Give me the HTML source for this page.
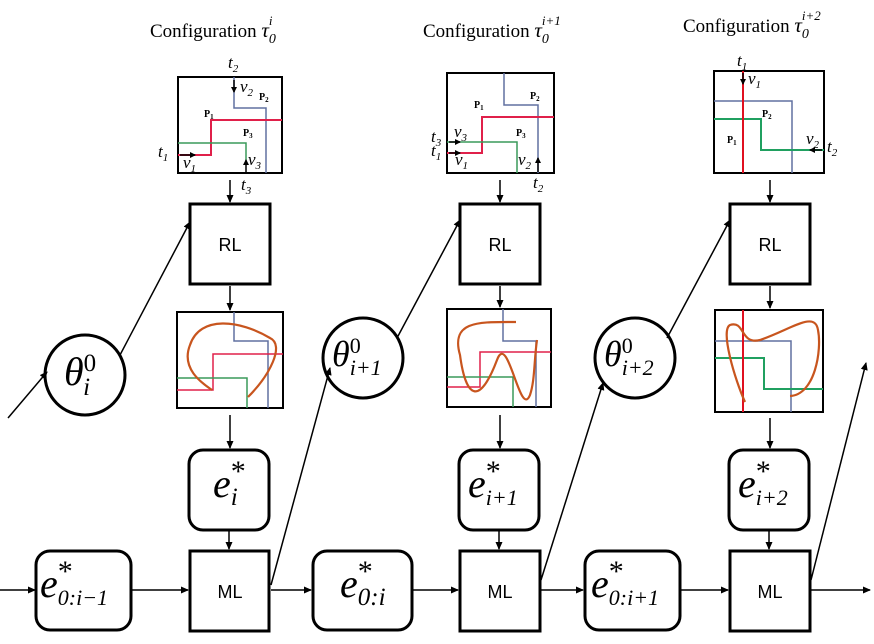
<!DOCTYPE html>
<html><head><style>
body{margin:0;background:#fff}
svg{display:block}
</style></head><body>
<svg width="874" height="644" viewBox="0 0 874 644" xmlns="http://www.w3.org/2000/svg">
<defs><marker id="a" markerWidth="8" markerHeight="8" refX="7" refY="4" orient="auto" markerUnits="userSpaceOnUse"><path d="M0,0.5 L8,4 L0,7.5z" fill="#000"/></marker>
<marker id="b" markerWidth="6" markerHeight="6" refX="5" refY="3" orient="auto" markerUnits="userSpaceOnUse"><path d="M0,0 L6,3 L0,6z" fill="#000"/></marker></defs>
<g font-family="Liberation Serif,serif" font-size="19">
<text x="150" y="37">Configuration <tspan font-style="italic" font-size="21">τ</tspan><tspan font-style="italic" font-size="14" dy="6">0</tspan><tspan font-style="italic" font-size="13" dx="-7" dy="-18">i</tspan></text>
<text x="423" y="37">Configuration <tspan font-style="italic" font-size="21">τ</tspan><tspan font-style="italic" font-size="14" dy="6">0</tspan><tspan font-style="italic" font-size="13" dx="-7" dy="-18">i+1</tspan></text>
<text x="683" y="32">Configuration <tspan font-style="italic" font-size="21">τ</tspan><tspan font-style="italic" font-size="14" dy="6">0</tspan><tspan font-style="italic" font-size="13" dx="-7" dy="-18">i+2</tspan></text>
</g>
<g fill="none" stroke-width="1.5">
<rect x="178" y="77" width="104" height="96" stroke="#000" stroke-width="2"/>
<path d="M234,77 V108 H266 V173" stroke="#6070a0"/>
<path d="M178,155 H211 V120 H282" stroke="#e0204a" stroke-width="2"/>
<path d="M178,143 H246 V160" stroke="#3a9a5a"/>
<rect x="447" y="73" width="107" height="100" stroke="#000" stroke-width="2"/>
<path d="M504,73 V105 H538 V173" stroke="#6070a0"/>
<path d="M447,153 H482 V117 H554" stroke="#e0204a" stroke-width="2"/>
<path d="M447,142 H517 V173" stroke="#3a9a5a"/>
<rect x="714" y="71" width="110" height="102" stroke="#000" stroke-width="2"/>
<path d="M714,101 H792 V173" stroke="#6070a0"/>
<path d="M714,119 H761 V150 H824" stroke="#20a060" stroke-width="2"/>
<path d="M743,71 V173" stroke="#e01020" stroke-width="2"/>
<rect x="177" y="312" width="106" height="96" stroke="#000" stroke-width="2"/>
<path d="M234,312 V341 H268 V408" stroke="#6070a0"/>
<path d="M177,390 H213 V354 H283" stroke="#e0204a"/>
<path d="M177,378 H247 V408" stroke="#3a9a5a"/>
<path d="M248,397 C270,375 285,345 270,338 C240,320 200,315 190,345 C180,370 205,385 212,390" stroke="#c8551e" stroke-width="2.2"/>
<rect x="447" y="309" width="104" height="98" stroke="#000" stroke-width="2"/>
<path d="M503,309 V341 H536 V407" stroke="#6070a0"/>
<path d="M447,387 H480 V352 H551" stroke="#e0204a"/>
<path d="M447,377 H513 V407" stroke="#3a9a5a"/>
<path d="M516,322 C480,322 450,320 460,355 C466,400 480,405 497,360 C508,330 520,420 530,395 C535,380 534,360 537,340" stroke="#c8551e" stroke-width="2.2"/>
<rect x="715" y="310" width="108" height="102" stroke="#000" stroke-width="2"/>
<path d="M715,341 H791 V412" stroke="#6070a0"/>
<path d="M715,358 H764 V389 H823" stroke="#20a060" stroke-width="2"/>
<path d="M743,310 V412" stroke="#e01020" stroke-width="2"/>
<path d="M745,402 C735,380 720,330 730,325 C745,320 740,345 760,340 C790,330 815,310 818,330 C822,350 815,395 790,396" stroke="#c8551e" stroke-width="2.2"/>
</g>
<g stroke="#000" stroke-width="1.5" marker-end="url(#b)">
<line x1="234" y1="80" x2="234" y2="92"/><line x1="180" y1="155" x2="195" y2="155"/><line x1="246" y1="172" x2="246" y2="160"/>
<line x1="449" y1="142" x2="460" y2="142"/><line x1="449" y1="153" x2="460" y2="153"/><line x1="538" y1="172" x2="538" y2="158"/>
<line x1="743" y1="73" x2="743" y2="84"/><line x1="822" y1="150" x2="810" y2="150"/>
</g>
<g font-family="Liberation Serif,serif" font-style="italic" font-size="17">
<text x="228" y="68">t<tspan font-size="11" dy="4">2</tspan></text>
<text x="240" y="92">v<tspan font-size="11" dy="4">2</tspan></text>
<text x="158" y="157">t<tspan font-size="11" dy="4">1</tspan></text>
<text x="183" y="168">v<tspan font-size="11" dy="4">1</tspan></text>
<text x="248" y="165">v<tspan font-size="11" dy="4">3</tspan></text>
<text x="241" y="190">t<tspan font-size="11" dy="4">3</tspan></text>
<text x="454" y="137">v<tspan font-size="11" dy="4">3</tspan></text>
<text x="431" y="142">t<tspan font-size="11" dy="4">3</tspan></text>
<text x="431" y="156">t<tspan font-size="11" dy="4">1</tspan></text>
<text x="455" y="165">v<tspan font-size="11" dy="4">1</tspan></text>
<text x="518" y="165">v<tspan font-size="11" dy="4">2</tspan></text>
<text x="533" y="188">t<tspan font-size="11" dy="4">2</tspan></text>
<text x="737" y="66">t<tspan font-size="11" dy="4">1</tspan></text>
<text x="748" y="84">v<tspan font-size="11" dy="4">1</tspan></text>
<text x="806" y="144">v<tspan font-size="11" dy="4">2</tspan></text>
<text x="827" y="152">t<tspan font-size="11" dy="4">2</tspan></text>
</g>
<g font-family="Liberation Serif,serif" font-weight="bold" font-size="10">
<text x="259" y="100">P<tspan font-size="7" dy="2">2</tspan></text>
<text x="204" y="117">P<tspan font-size="7" dy="2">1</tspan></text>
<text x="243" y="136">P<tspan font-size="7" dy="2">3</tspan></text>
<text x="530" y="99">P<tspan font-size="7" dy="2">2</tspan></text>
<text x="474" y="108">P<tspan font-size="7" dy="2">1</tspan></text>
<text x="516" y="136">P<tspan font-size="7" dy="2">3</tspan></text>
<text x="762" y="117">P<tspan font-size="7" dy="2">2</tspan></text>
<text x="727" y="143">P<tspan font-size="7" dy="2">1</tspan></text>
</g>
<g fill="none" stroke="#000" stroke-width="3">
<rect x="190" y="204" width="80" height="80"/>
<rect x="460" y="204" width="80" height="80"/>
<rect x="730" y="204" width="80" height="80"/>
<rect x="190" y="551" width="79" height="80"/>
<rect x="460" y="551" width="80" height="80"/>
<rect x="730" y="551" width="80" height="80"/>
<rect x="189" y="450" width="80" height="80" rx="14"/>
<rect x="459" y="450" width="80" height="80" rx="14"/>
<rect x="729" y="450" width="80" height="80" rx="14"/>
<rect x="36" y="551" width="95" height="79" rx="14"/>
<rect x="313" y="551" width="99" height="79" rx="14"/>
<rect x="585" y="551" width="95" height="79" rx="14"/>
<circle cx="85" cy="375" r="40"/>
<circle cx="363" cy="358" r="40"/>
<circle cx="635" cy="358" r="40"/>
</g>
<g font-family="Liberation Sans,sans-serif" font-size="18" text-anchor="middle">
<text x="230" y="251">RL</text><text x="500" y="251">RL</text><text x="770" y="251">RL</text>
<text x="230" y="598">ML</text><text x="500" y="598">ML</text><text x="770" y="598">ML</text>
</g>
<g font-family="Liberation Serif,serif" font-style="italic" font-size="40">
<text x="64" y="385">θ<tspan font-size="25" dy="-14" font-style="normal">0</tspan><tspan font-size="25" dx="-13" dy="24">i</tspan></text>
<text x="332" y="366" font-size="36">θ<tspan font-size="22" dy="-13" font-style="normal">0</tspan><tspan font-size="22" dx="-11" dy="22">i+1</tspan></text>
<text x="604" y="366" font-size="36">θ<tspan font-size="22" dy="-13" font-style="normal">0</tspan><tspan font-size="22" dx="-11" dy="22">i+2</tspan></text>
<text x="213" y="497">e<tspan font-size="30" font-style="normal" dy="-16">*</tspan><tspan font-size="25" dx="-15" dy="24">i</tspan></text>
<text x="468" y="497">e<tspan font-size="30" font-style="normal" dy="-16">*</tspan><tspan font-size="22" dx="-15" dy="24">i+1</tspan></text>
<text x="738" y="497">e<tspan font-size="30" font-style="normal" dy="-16">*</tspan><tspan font-size="22" dx="-15" dy="24">i+2</tspan></text>
<text x="40" y="597">e<tspan font-size="30" font-style="normal" dy="-16">*</tspan><tspan font-size="22" dx="-15" dy="24">0:i−1</tspan></text>
<text x="340" y="597">e<tspan font-size="30" font-style="normal" dy="-16">*</tspan><tspan font-size="25" dx="-15" dy="24">0:i</tspan></text>
<text x="591" y="597">e<tspan font-size="30" font-style="normal" dy="-16">*</tspan><tspan font-size="22" dx="-15" dy="24">0:i+1</tspan></text>
</g>
<g stroke="#000" stroke-width="1.5" marker-end="url(#a)">
<line x1="230" y1="180" x2="230" y2="202"/><line x1="500" y1="180" x2="500" y2="202"/><line x1="770" y1="180" x2="770" y2="202"/>
<line x1="230" y1="286" x2="230" y2="310"/><line x1="500" y1="286" x2="500" y2="307"/><line x1="770" y1="286" x2="770" y2="308"/>
<line x1="230" y1="415" x2="230" y2="448"/><line x1="500" y1="415" x2="500" y2="448"/><line x1="770" y1="418" x2="770" y2="448"/>
<line x1="229" y1="531" x2="229" y2="549"/><line x1="499" y1="531" x2="499" y2="549"/><line x1="769" y1="531" x2="769" y2="549"/>
<line x1="0" y1="590" x2="35" y2="590"/><line x1="132" y1="590" x2="188" y2="590"/>
<line x1="271" y1="590" x2="311" y2="590"/><line x1="413" y1="590" x2="458" y2="590"/>
<line x1="541" y1="590" x2="583" y2="590"/><line x1="681" y1="590" x2="728" y2="590"/>
<line x1="811" y1="590" x2="870" y2="590"/>
<line x1="8" y1="418" x2="47" y2="372"/>
<line x1="120" y1="355" x2="190" y2="222"/>
<line x1="271" y1="585" x2="330" y2="368"/>
<line x1="397" y1="338" x2="460" y2="220"/>
<line x1="541" y1="580" x2="603" y2="383"/>
<line x1="667" y1="338" x2="730" y2="220"/>
<line x1="811" y1="580" x2="866" y2="363"/>
</g>
</svg>
</body></html>
